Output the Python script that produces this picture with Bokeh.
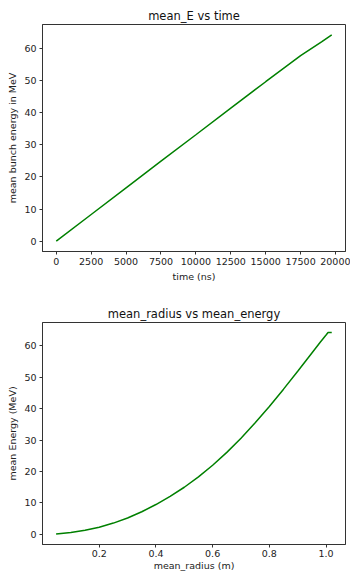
from bokeh.plotting import figure
from bokeh.layouts import column
from bokeh.models import Range1d, FixedTicker, PrintfTickFormatter
from bokeh.embed import file_html
from bokeh.resources import INLINE

# --- data ---
time_ns = [0, 2500, 5000, 7500, 10000, 12500, 15000, 17500, 19000, 19730]
mean_E = [0.0, 8.3, 16.6, 24.9, 33.1, 41.4, 49.6, 57.7, 62.0, 64.2]

mean_radius = [0.048, 0.1, 0.15, 0.2, 0.25, 0.3, 0.35, 0.4, 0.45, 0.5, 0.55, 0.6,
               0.65, 0.7, 0.75, 0.8, 0.85, 0.9, 0.95, 0.98, 1.0, 1.007, 1.02]
mean_energy = [0.1, 0.6, 1.3, 2.3, 3.6, 5.2, 7.2, 9.5, 12.1, 15.0, 18.3, 22.0,
               26.1, 30.6, 35.5, 40.7, 46.2, 51.9, 57.7, 61.2, 63.4, 64.2, 64.2]

top_xticks = [0, 2500, 5000, 7500, 10000, 12500, 15000, 17500, 20000]
y_ticks = [0, 10, 20, 30, 40, 50, 60]
bot_xticks = [0.2, 0.4, 0.6, 0.8, 1.0]

FONT = "DejaVu Sans"
TXT = "#222222"
GREEN = "#008000"


def style(p, xticks, yticks):
    p.grid.visible = False
    p.outline_line_color = "#333333"
    p.outline_line_width = 1
    p.title.align = "center"
    p.title.text_font = FONT
    p.title.text_font_size = "11.5px"
    p.title.text_font_style = "normal"
    p.title.text_color = "#111111"
    p.xaxis.ticker = FixedTicker(ticks=xticks)
    p.yaxis.ticker = FixedTicker(ticks=yticks)
    for ax in (p.xaxis, p.yaxis):
        ax.axis_line_color = "#333333"
        ax.major_tick_line_color = "#333333"
        ax.major_tick_out = 3
        ax.major_tick_in = 0
        ax.minor_tick_line_color = None
        ax.major_label_text_font = FONT
        ax.major_label_text_font_size = "9.5px"
        ax.major_label_text_color = TXT
        ax.axis_label_text_font = FONT
        ax.axis_label_text_font_size = "9.5px"
        ax.axis_label_text_font_style = "normal"
        ax.axis_label_text_color = TXT
        ax.major_label_standoff = 3
        ax.axis_label_standoff = 3


p1 = figure(width=350, height=287, output_backend="svg", toolbar_location=None,
            title="mean_E vs time",
            x_range=Range1d(-986, 20716), y_range=Range1d(-3.21, 67.4),
            min_border_left=39, min_border_right=5, min_border_top=24, min_border_bottom=36)
p1.line(time_ns, mean_E, line_color=GREEN, line_width=1.5)
style(p1, top_xticks, y_ticks)
p1.xaxis.axis_label = "time (ns)"
p1.yaxis.axis_label = "mean bunch energy in MeV"
p1.title.standoff = 4

p2 = figure(width=350, height=286, output_backend="svg", toolbar_location=None,
            title="mean_radius vs mean_energy",
            x_range=Range1d(0.0, 1.0685), y_range=Range1d(-3.21, 67.4),
            min_border_left=42, min_border_right=3, min_border_top=35, min_border_bottom=25)
p2.line(mean_radius, mean_energy, line_color=GREEN, line_width=1.5)
style(p2, bot_xticks, y_ticks)
p2.xaxis.formatter = PrintfTickFormatter(format="%.1f")
p2.xaxis.axis_label = "mean_radius (m)"
p2.xaxis.major_label_standoff = 2
p2.xaxis.axis_label_standoff = 0
p2.yaxis.axis_label = "mean Energy (MeV)"
p2.title.standoff = 4

layout = column(p1, p2, spacing=0)
open("out.html", "w").write(file_html(layout, INLINE))
